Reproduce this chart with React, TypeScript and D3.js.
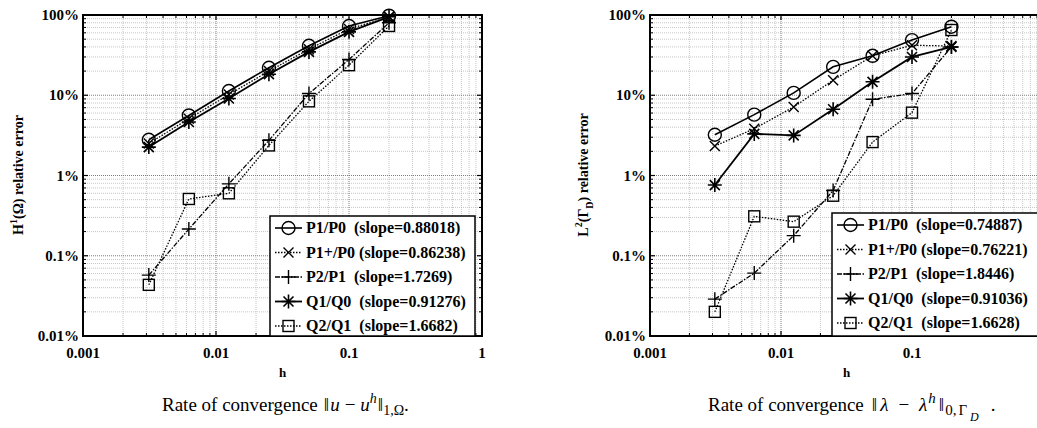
import React from "react";
import * as d3 from "d3";

const hValues = [0.003125, 0.00625, 0.0125, 0.025, 0.05, 0.1, 0.2];

// Left panel: H1(Omega) relative error (%)
const h1P1P0 = [2.79, 5.6, 11.3, 22, 41.4, 72.9, 98];
const h1P1pP0 = [2.5, 5.1, 10.2, 20, 37.5, 67, 94];
const h1P2P1 = [0.0574, 0.215, 0.787, 2.74, 10.5, 27.9, 80];
const h1Q1Q0 = [2.26, 4.64, 9.1, 18.3, 34.7, 61.7, 95];
const h1Q2Q1 = [0.0434, 0.51, 0.6, 2.37, 8.4, 23.7, 73];

// Right panel: L2(Gamma_D) relative error (%)
const l2P1P0 = [3.22, 5.73, 10.7, 22.6, 31, 48.7, 71.5];
const l2P1pP0 = [2.33, 3.83, 7.15, 15.4, 31, 42, 41];
const l2P2P1 = [0.0288, 0.0608, 0.178, 0.65, 8.9, 10.5, 40];
const l2Q1Q0 = [0.76, 3.3, 3.16, 6.7, 14.7, 30, 40];
const l2Q2Q1 = [0.02, 0.31, 0.266, 0.56, 2.61, 6.07, 65];

const seriesNames = ["P1/P0", "P1+/P0", "P2/P1", "Q1/Q0", "Q2/Q1"];
const slopesH1 = ["0.88018", "0.86238", "1.7269", "0.91276", "1.6682"];
const slopesL2 = ["0.74887", "0.76221", "1.8446", "0.91036", "1.6628"];

const xTicks = [0.001, 0.01, 0.1, 1];
const xTickLabels = ["0.001", "0.01", "0.1", "1"];
const yTicks = [0.01, 0.1, 1, 10, 100];
const yTickLabels = ["0.01%", "0.1%", "1%", "10%", "100%"];

const markers = ["circle", "x", "plus", "star", "square"];
const dashes = [null, "1.5,1.5", "5,1.5,1.5,1.5", null, "1.5,1.5"];
const widths = [1.6, 1.3, 1.3, 1.8, 1.3];

const FONT = "'Liberation Serif', 'Times New Roman', serif";
const W = 1037;

function Marker({ type, x, y }: { type: string; x: number; y: number }) {
  const s = "#000";
  if (type === "circle")
    return <circle cx={x} cy={y} r={6.5} fill="none" stroke={s} strokeWidth={1.4} />;
  if (type === "square")
    return <rect x={x - 5.5} y={y - 5.5} width={11} height={11} fill="none" stroke={s} strokeWidth={1.4} />;
  if (type === "x")
    return (
      <path d={`M${x - 5},${y - 5}L${x + 5},${y + 5}M${x - 5},${y + 5}L${x + 5},${y - 5}`} stroke={s} strokeWidth={1.4} />
    );
  if (type === "plus")
    return (
      <path d={`M${x - 7},${y}L${x + 7},${y}M${x},${y - 7}L${x},${y + 7}`} stroke={s} strokeWidth={1.4} />
    );
  return (
    <path
      d={`M${x - 7},${y}L${x + 7},${y}M${x},${y - 7}L${x},${y + 7}M${x - 5},${y - 5}L${x + 5},${y + 5}M${x - 5},${y + 5}L${x + 5},${y - 5}`}
      stroke={s}
      strokeWidth={1.6}
    />
  );
}

function Panel({
  left,
  right,
  data,
  slopes,
  legendX,
  legendY,
  legendW,
  ylabel,
}: {
  left: number;
  right: number;
  data: number[][];
  slopes: string[];
  legendX: number;
  legendY: number;
  legendW: number;
  ylabel: React.ReactNode;
}) {
  const top = 15;
  const bottom = 336;
  const x = d3.scaleLog().domain([0.001, 1]).range([left, right]);
  const y = d3.scaleLog().domain([0.01, 100]).range([bottom, top]);

  const xMinor: number[] = [];
  for (let e = -3; e < 0; e++) for (let k = 2; k <= 9; k++) xMinor.push(k * Math.pow(10, e));
  const yMinor: number[] = [];
  for (let e = -2; e < 2; e++) for (let k = 2; k <= 9; k++) yMinor.push(k * Math.pow(10, e));

  const line = d3
    .line<number>()
    .x((_, i) => x(hValues[i]))
    .y((d) => y(d));

  const rowH = 24.5;
  return (
    <g>
      {xMinor.map((v, i) => (
        <line key={"xm" + i} x1={x(v)} x2={x(v)} y1={top} y2={bottom} stroke="#b8b8b8" strokeWidth={0.8} strokeDasharray="1,1" />
      ))}
      {yMinor.map((v, i) => (
        <line key={"ym" + i} x1={left} x2={right} y1={y(v)} y2={y(v)} stroke="#b8b8b8" strokeWidth={0.8} strokeDasharray="1,1" />
      ))}
      {xTicks.map((v, i) => (
        <line key={"xM" + i} x1={x(v)} x2={x(v)} y1={top} y2={bottom} stroke="#707070" strokeWidth={0.9} strokeDasharray="1,1" />
      ))}
      {yTicks.map((v, i) => (
        <line key={"yM" + i} x1={left} x2={right} y1={y(v)} y2={y(v)} stroke="#707070" strokeWidth={0.9} strokeDasharray="1,1" />
      ))}
      {xMinor.map((v, i) => (
        <g key={"xt" + i}>
          <line x1={x(v)} x2={x(v)} y1={bottom} y2={bottom - 3} stroke="#000" strokeWidth={1} />
          <line x1={x(v)} x2={x(v)} y1={top} y2={top + 3} stroke="#000" strokeWidth={1} />
        </g>
      ))}
      {yMinor.map((v, i) => (
        <g key={"yt" + i}>
          <line x1={left} x2={left + 3} y1={y(v)} y2={y(v)} stroke="#000" strokeWidth={1} />
          <line x1={right} x2={right - 3} y1={y(v)} y2={y(v)} stroke="#000" strokeWidth={1} />
        </g>
      ))}
      {xTicks.map((v, i) => (
        <g key={"xT" + i}>
          <line x1={x(v)} x2={x(v)} y1={bottom} y2={bottom - 5} stroke="#000" strokeWidth={1.2} />
          <line x1={x(v)} x2={x(v)} y1={top} y2={top + 5} stroke="#000" strokeWidth={1.2} />
        </g>
      ))}
      {yTicks.map((v, i) => (
        <g key={"yT" + i}>
          <line x1={left} x2={left + 5} y1={y(v)} y2={y(v)} stroke="#000" strokeWidth={1.2} />
          <line x1={right} x2={right - 5} y1={y(v)} y2={y(v)} stroke="#000" strokeWidth={1.2} />
        </g>
      ))}
      {data.map((vals, si) => (
        <g key={"s" + si}>
          <path d={line(vals) || ""} fill="none" stroke="#000" strokeWidth={widths[si]} strokeDasharray={dashes[si] || undefined} />
          {vals.map((v, i) => (
            <Marker key={i} type={markers[si]} x={x(hValues[i])} y={y(v)} />
          ))}
        </g>
      ))}
      <rect x={left} y={top} width={right - left} height={bottom - top} fill="none" stroke="#000" strokeWidth={2} />
      {xTicks.map((v, i) =>
        x(v) > W - 6 ? null : (
          <text key={"xl" + i} x={x(v)} y={358} textAnchor="middle" fontFamily={FONT} fontWeight="bold" fontSize={15}>
            {xTickLabels[i]}
          </text>
        )
      )}
      {yTicks.map((v, i) => (
        <text key={"yl" + i} x={left - 4} y={y(v) + 5} textAnchor="end" fontFamily={FONT} fontWeight="bold" fontSize={15}>
          {yTickLabels[i]}
        </text>
      ))}
      <text x={(left + right) / 2} y={377} textAnchor="middle" fontFamily={FONT} fontWeight="bold" fontSize={13}>
        h
      </text>
      {ylabel}
      <rect x={legendX} y={legendY} width={legendW} height={bottom - legendY} fill="#fff" stroke="#000" strokeWidth={1.5} />
      {seriesNames.map((name, si) => {
        const cy = legendY + 12 + si * rowH;
        const x0 = legendX + 5;
        const x1 = legendX + 32;
        return (
          <g key={"lg" + si}>
            <line x1={x0} x2={x1} y1={cy} y2={cy} stroke="#000" strokeWidth={widths[si]} strokeDasharray={dashes[si] || undefined} />
            <Marker type={markers[si]} x={(x0 + x1) / 2} y={cy} />
            <text x={x1 + 4} y={cy + 5} fontFamily={FONT} fontWeight="bold" fontSize={16}>
              {name + (name === "P1+/P0" ? "\u00A0" : "\u00A0\u00A0") + "(slope=" + slopes[si] + ")"}
            </text>
          </g>
        );
      })}
    </g>
  );
}

export default function App() {
  const leftData = [h1P1P0, h1P1pP0, h1P2P1, h1Q1Q0, h1Q2Q1];
  const rightData = [l2P1P0, l2P1pP0, l2P2P1, l2Q1Q0, l2Q2Q1];
  return (
    <svg width={W} height={428} style={{ position: "absolute", left: 0, top: 0, background: "#fff" }}>
      <rect x={0} y={0} width={W} height={428} fill="#fff" />
      <Panel
        left={83}
        right={482}
        data={leftData}
        slopes={slopesH1}
        legendX={270}
        legendY={216}
        legendW={205}
        ylabel={
          <text transform="translate(23,175) rotate(-90)" textAnchor="middle" fontFamily={FONT} fontWeight="bold" fontSize={14}>
            H<tspan dy={-6} fontSize={10}>1</tspan>
            <tspan dy={6}>(Ω) relative error</tspan>
          </text>
        }
      />
      <Panel
        left={650}
        right={1043}
        data={rightData}
        slopes={slopesL2}
        legendX={832}
        legendY={213}
        legendW={210}
        ylabel={
          <text transform="translate(588,175) rotate(-90)" textAnchor="middle" fontFamily={FONT} fontWeight="bold" fontSize={14}>
            L<tspan dy={-6} fontSize={10}>2</tspan>
            <tspan dy={6}>(Γ</tspan>
            <tspan dy={5} fontSize={10}>D</tspan>
            <tspan dy={-5}>) relative error</tspan>
          </text>
        }
      />
      <text x={162} y={411} fontFamily={FONT} fontSize={19}>
        Rate of convergence
        <tspan dx={6}>‖</tspan>
        <tspan fontStyle="italic" dx={1}>u</tspan>
        <tspan dx={5}>−</tspan>
        <tspan fontStyle="italic" dx={5}>u</tspan>
        <tspan dy={-8} fontSize={14} fontStyle="italic">h</tspan>
        <tspan dy={8} dx={1}>‖</tspan>
        <tspan dy={4} fontSize={14}>1,Ω</tspan>
        <tspan dy={-4}>.</tspan>
      </text>
      <text x={708} y={411} fontFamily={FONT} fontSize={19}>
        Rate of convergence
        <tspan dx={8}>‖</tspan>
        <tspan fontStyle="italic" dx={3}>λ</tspan>
        <tspan dx={10}>−</tspan>
        <tspan fontStyle="italic" dx={10}>λ</tspan>
        <tspan dy={-8} fontSize={15} fontStyle="italic" dx={1}>h</tspan>
        <tspan dy={8} dx={3}>‖</tspan>
        <tspan dy={4} fontSize={15} dx={1}>0,</tspan>
        <tspan fontSize={15} dx={2}>Γ</tspan>
        <tspan dy={6} fontSize={12} fontStyle="italic" dx={3}>D</tspan>
        <tspan dy={-10} dx={12}>.</tspan>
      </text>
    </svg>
  );
}
